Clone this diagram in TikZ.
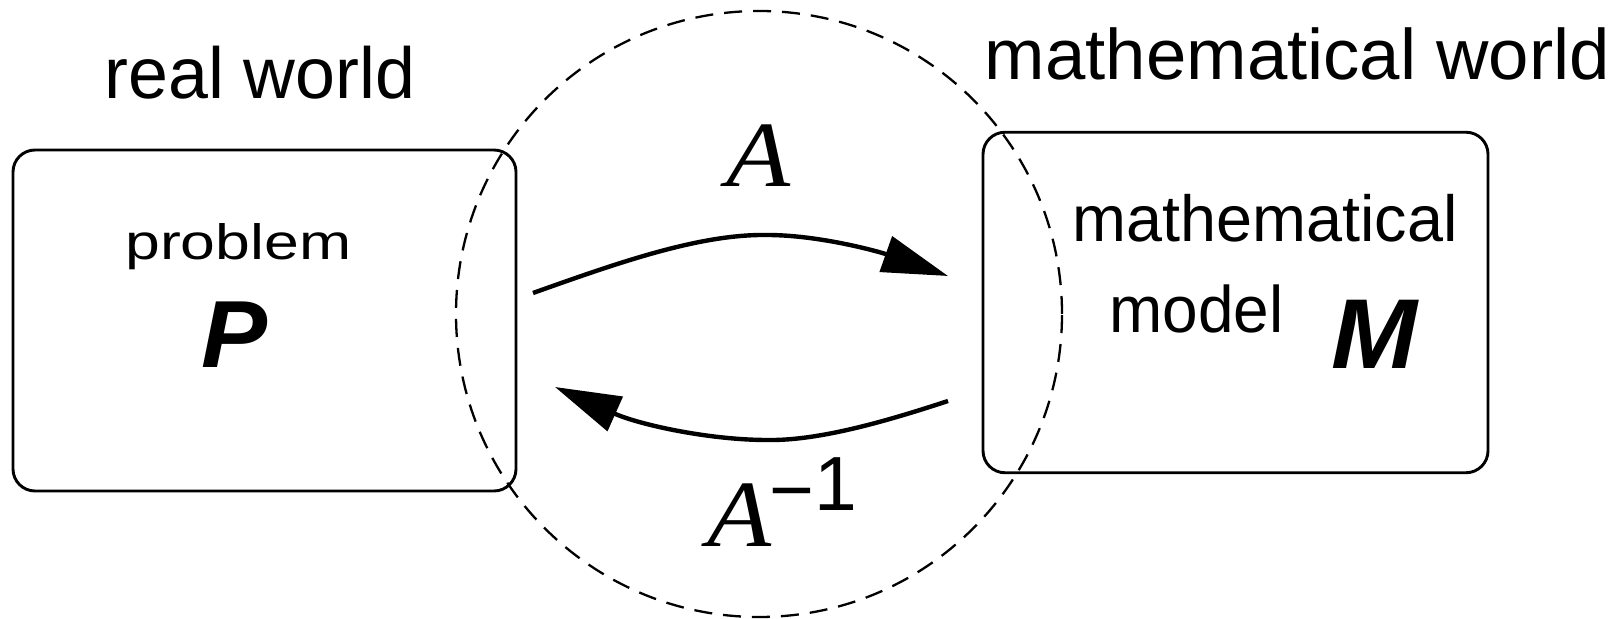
\documentclass[tikz,border=0pt]{standalone}
\usepackage{fontspec}
\setmainfont{Liberation Sans}
\newfontfamily\serifA{Liberation Serif}
\usepackage{graphicx}
\usetikzlibrary{arrows.meta}
\newcommand\rsz[3]{\resizebox{#1}{#2}{#3}}
\begin{document}
\begin{tikzpicture}[x=0.5pt,y=-0.5pt,
  lbl/.style={inner sep=0pt, outer sep=0pt, anchor=base},
  worldbox/.style={draw, line width=1.45pt, rounded corners=11pt, inner sep=0pt},
  map/.style={line width=2.2pt, -{Triangle[length=33pt,width=18.5pt]}},
  zone/.style={draw, circle, dash pattern=on 9pt off 5.5pt, line width=1.15pt, inner sep=0pt, minimum size=303pt}
]
\useasboundingbox (0,0) rectangle (1609,619);
\node[worldbox, minimum width=251.5pt, minimum height=170.5pt] (real) at (264.5,320.5) {};
\node[worldbox, minimum width=252.5pt, minimum height=170.25pt] (math) at (1235.5,302.5) {};
\node[zone] (zone) at (759,314) {};

\node[lbl] (rw) at (260,99) {\rsz{155.5pt}{26.2pt}{real world}};
\node[lbl] (mw) at (1297.5,80) {\rsz{312.5pt}{25.9pt}{mathematical world}};
\node[lbl] (prob) at (238.3,260) {\rsz{113pt}{18pt}{problem}};
\node[lbl] (P) at (235,367.3) {\rsz{33pt}{32.8pt}{\bfseries\itshape P}};
\node[lbl] (mathtxt) at (1265,241.7) {\rsz{192.5pt}{23.6pt}{mathematical}};
\node[lbl] (model) at (1196.3,332.7) {\rsz{87pt}{23.85pt}{model}};
\node[lbl] (M) at (1374.7,368.3) {\rsz{43pt}{34.15pt}{\bfseries\itshape M}};
\node[lbl] (A) at (758.3,186.7) {\rsz{32pt}{30.85pt}{\serifA\itshape A}};
\node[lbl] (Ainv) at (740,546) {\rsz{32pt}{31.35pt}{\serifA\itshape A}};
\node[lbl, anchor=base west] (inv) at (769.5,510) {\fontsize{38.4pt}{40pt}\selectfont\raisebox{-3pt}{−}1};

\coordinate (fs) at (533,293);
\coordinate (fm) at (767,235);
\coordinate (fe) at (948,276);
\draw[map] (fs) .. controls (620,262) and (700,234) .. (fm) .. controls (820,235) and (880,252) .. (fe);

\coordinate (bs) at (948,401);
\coordinate (bm) at (767,440);
\coordinate (be) at (555,387);
\draw[map] (bs) .. controls (890,420) and (820,441) .. (bm) .. controls (710,440) and (640,425) .. (be);
\end{tikzpicture}
\end{document}
